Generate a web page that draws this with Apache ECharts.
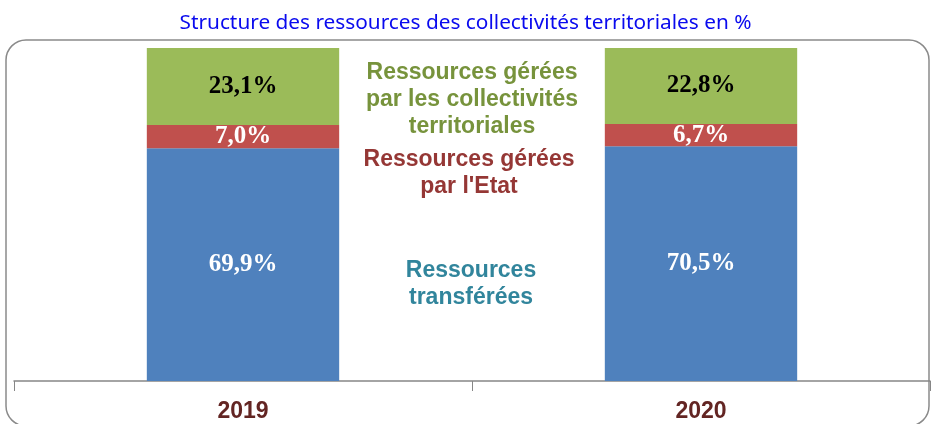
<!DOCTYPE html>
<html>
<head>
<meta charset="utf-8">
<script src="https://cdn.jsdelivr.net/npm/echarts@6/dist/echarts.min.js"></script>
<style>
  html, body { margin: 0; padding: 0; background: #fff; }
  #main { width: 931px; height: 424px; }
</style>
</head>
<body>
<div id="main"></div>
<script>
// donnees
var annees = ['2019', '2020'];
var transferees = [69.9, 70.5];
var gereesEtat = [7.0, 6.7];
var gereesCollectivites = [23.1, 22.8];

var myChart = echarts.init(document.getElementById('main'));

function fmt(p) {
  return p.value.toFixed(1).replace('.', ',') + '%';
}

var labelBase = {
  show: true,
  position: 'inside',
  fontFamily: 'Liberation Serif',
  fontWeight: 'bold',
  fontSize: 25,
  formatter: fmt
};

var option = {
  animation: false,
  title: {
    text: 'Structure des ressources des collectivités territoriales en %',
    left: 'center',
    top: 8,
    textStyle: { color: '#0a0aee', fontFamily: 'Noto Sans', fontWeight: 'normal', fontSize: 20.8 }
  },
  graphic: [
    {
      type: 'rect', z: -1,
      shape: { x: 6, y: 40, width: 923, height: 386, r: 20 },
      style: { fill: 'none', stroke: '#8a8a8a', lineWidth: 1.5 }
    },
    {
      type: 'text', x: 472, y: 59,
      style: {
        text: 'Ressources gérées\npar les collectivités\nterritoriales',
        align: 'center', fill: '#77933c',
        font: 'bold 23px "Liberation Sans"', lineHeight: 27
      }
    },
    {
      type: 'text', x: 469, y: 146,
      style: {
        text: 'Ressources gérées\npar l\'Etat',
        align: 'center', fill: '#953735',
        font: 'bold 23px "Liberation Sans"', lineHeight: 27
      }
    },
    {
      type: 'text', x: 471, y: 257,
      style: {
        text: 'Ressources\ntransférées',
        align: 'center', fill: '#31859c',
        font: 'bold 23px "Liberation Sans"', lineHeight: 27
      }
    }
  ],
  grid: { left: 14, right: 1, top: 48, bottom: 43 },
  xAxis: {
    type: 'category',
    data: annees,
    axisLine: { lineStyle: { color: '#868686', width: 1.5 } },
    axisTick: { show: true, length: 10, lineStyle: { color: '#868686' } },
    axisLabel: {
      margin: 19, color: '#632523', fontWeight: 'bold', fontSize: 23,
      fontFamily: 'Liberation Sans Narrow, Liberation Sans'
    }
  },
  yAxis: { type: 'value', min: 0, max: 100, show: false },
  series: [
    {
      name: 'Ressources transférées', type: 'bar', stack: 'total', barWidth: '42%',
      data: transferees, itemStyle: { color: '#4f81bd' },
      label: Object.assign({}, labelBase, { color: '#fff' })
    },
    {
      name: "Ressources gérées par l'Etat", type: 'bar', stack: 'total',
      data: gereesEtat, itemStyle: { color: '#c0504d' },
      label: Object.assign({}, labelBase, { color: '#fff' })
    },
    {
      name: 'Ressources gérées par les collectivités territoriales', type: 'bar', stack: 'total',
      data: gereesCollectivites, itemStyle: { color: '#9bbb59' },
      label: Object.assign({}, labelBase, { color: '#000' })
    }
  ]
};

myChart.setOption(option);
</script>
</body>
</html>
